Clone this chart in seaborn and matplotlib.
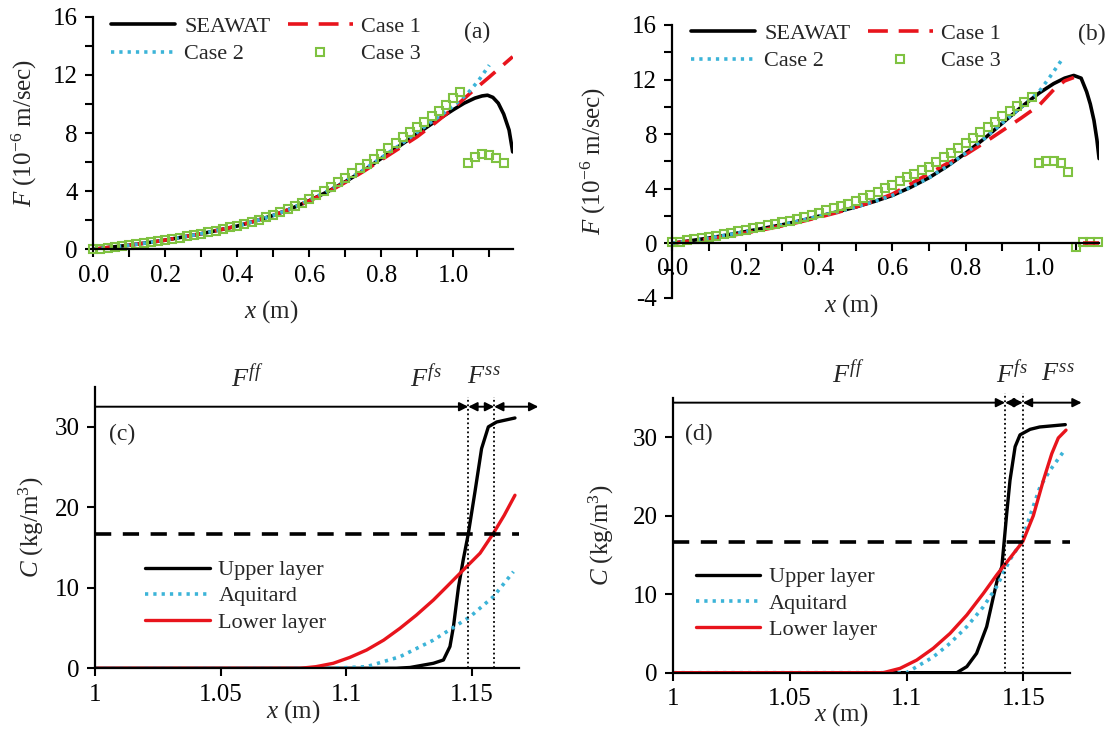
import numpy as np
import matplotlib
matplotlib.use("Agg")
import matplotlib.pyplot as plt
from matplotlib.ticker import MultipleLocator, FuncFormatter
import seaborn as sns

# ---------------- data: panel (a) ----------------
a_seawat_x = [0, 0.05, 0.1, 0.15, 0.2, 0.25, 0.3, 0.35, 0.4, 0.45, 0.5, 0.55, 0.6, 0.65, 0.7, 0.75,
              0.8, 0.85, 0.9, 0.95, 1.0, 1.03, 1.06, 1.08, 1.095, 1.11, 1.125, 1.14, 1.155, 1.165]
a_seawat_y = [0, 0.15, 0.28, 0.45, 0.63, 0.85, 1.07, 1.33, 1.6, 1.95, 2.33, 2.8, 3.35, 3.95, 4.65, 5.4,
              6.25, 7.1, 7.95, 8.8, 9.6, 10.05, 10.4, 10.55, 10.6, 10.45, 10.05, 9.3, 8.2, 6.7]
a_case1_x = [0, 0.05, 0.1, 0.15, 0.2, 0.25, 0.3, 0.35, 0.4, 0.45, 0.5, 0.55, 0.6, 0.65, 0.7, 0.75,
             0.8, 0.85, 0.9, 0.95, 1.0, 1.05, 1.1, 1.165]
a_case1_y = [0, 0.15, 0.28, 0.45, 0.63, 0.85, 1.07, 1.33, 1.6, 1.95, 2.33, 2.8, 3.33, 3.92, 4.6, 5.35,
             6.15, 6.95, 7.75, 8.7, 9.7, 10.8, 11.85, 13.25]
a_case2_x = [0, 0.05, 0.1, 0.15, 0.2, 0.25, 0.3, 0.35, 0.4, 0.45, 0.5, 0.55, 0.6, 0.65, 0.7, 0.75,
             0.8, 0.85, 0.9, 0.95, 1.0, 1.04, 1.07, 1.10]
a_case2_y = [0, 0.15, 0.28, 0.45, 0.63, 0.85, 1.07, 1.33, 1.6, 1.95, 2.33, 2.8, 3.38, 4.0, 4.7, 5.45,
             6.3, 7.15, 8.05, 8.95, 9.85, 10.73, 11.6, 12.67]
a_case3_x = [0.00, 0.02, 0.04, 0.06, 0.08, 0.10, 0.12, 0.14, 0.16, 0.18, 0.20, 0.22, 0.24, 0.26,
             0.28, 0.30, 0.32, 0.34, 0.36, 0.38, 0.40, 0.42, 0.44, 0.46, 0.48, 0.50, 0.52, 0.54,
             0.56, 0.58, 0.60, 0.62, 0.64, 0.66, 0.68, 0.70, 0.72, 0.74, 0.76, 0.78, 0.80, 0.82,
             0.84, 0.86, 0.88, 0.90, 0.92, 0.94, 0.96, 0.98, 1.00, 1.02,
             1.04, 1.06, 1.08, 1.10, 1.12, 1.14]
a_case3_y = [0.00, 0.05, 0.10, 0.16, 0.22, 0.28, 0.34, 0.40, 0.47, 0.55, 0.63, 0.71, 0.80, 0.89,
             0.98, 1.07, 1.17, 1.28, 1.39, 1.51, 1.63, 1.76, 1.90, 2.04, 2.19, 2.35, 2.55, 2.76,
             2.98, 3.21, 3.45, 3.71, 3.98, 4.30, 4.60, 4.92, 5.24, 5.56, 5.88, 6.22, 6.58, 6.96,
             7.34, 7.72, 8.08, 8.42, 8.78, 9.16, 9.54, 9.96, 10.40, 10.84,
             5.91, 6.37, 6.55, 6.49, 6.28, 5.91]

# ---------------- data: panel (b) ----------------
b_seawat_x = [0, 0.05, 0.1, 0.15, 0.2, 0.25, 0.3, 0.35, 0.4, 0.45, 0.5, 0.55, 0.6, 0.65, 0.7, 0.75,
              0.8, 0.85, 0.9, 0.95, 1.0, 1.04, 1.07, 1.095, 1.115, 1.13, 1.14, 1.15, 1.158, 1.164]
b_seawat_y = [0, 0.18, 0.38, 0.6, 0.85, 1.1, 1.35, 1.65, 1.98, 2.3, 2.65, 3.05, 3.5, 4.1, 4.8, 5.65,
              6.6, 7.65, 8.8, 9.95, 11.0, 11.7, 12.1, 12.3, 12.1, 11.1, 10.2, 9.0, 7.6, 6.2]
b_case1_x = [0, 0.05, 0.1, 0.15, 0.2, 0.25, 0.3, 0.35, 0.4, 0.45, 0.5, 0.55, 0.6, 0.65, 0.7, 0.75,
             0.8, 0.85, 0.9, 0.95, 1.0, 1.04, 1.07, 1.095]
b_case1_y = [0, 0.15, 0.32, 0.52, 0.75, 1.0, 1.27, 1.57, 1.9, 2.25, 2.65, 3.08, 3.6, 4.35, 5.1, 5.85,
             6.5, 7.35, 8.25, 9.15, 10.1, 11.25, 11.9, 12.15]
b_case1_tail_x = [1.12, 1.14, 1.165]
b_case1_tail_y = [0, 0, 0]
b_case2_x = [0, 0.05, 0.1, 0.15, 0.2, 0.25, 0.3, 0.35, 0.4, 0.45, 0.5, 0.55, 0.6, 0.65, 0.7, 0.75,
             0.8, 0.85, 0.9, 0.95, 1.0, 1.03, 1.062]
b_case2_y = [0, 0.18, 0.38, 0.6, 0.85, 1.1, 1.35, 1.65, 1.98, 2.3, 2.65, 3.05, 3.5, 4.1, 4.8, 5.65,
             6.6, 7.65, 8.8, 9.95, 11.1, 12.2, 13.44]
b_case3_x = [0.00, 0.02, 0.04, 0.06, 0.08, 0.10, 0.12, 0.14, 0.16, 0.18, 0.20, 0.22, 0.24, 0.26,
             0.28, 0.30, 0.32, 0.34, 0.36, 0.38, 0.40, 0.42, 0.44, 0.46, 0.48, 0.50, 0.52, 0.54,
             0.56, 0.58, 0.60, 0.62, 0.64, 0.66, 0.68, 0.70, 0.72, 0.74, 0.76, 0.78, 0.80, 0.82,
             0.84, 0.86, 0.88, 0.90, 0.92, 0.94, 0.96, 0.98,
             1.00, 1.02, 1.04, 1.06, 1.08,
             1.10, 1.12, 1.14, 1.16]
b_case3_y = [0.05, 0.12, 0.20, 0.28, 0.36, 0.45, 0.55, 0.65, 0.76, 0.88, 1.00, 1.10, 1.20, 1.31,
             1.42, 1.54, 1.66, 1.79, 1.93, 2.08, 2.24, 2.40, 2.56, 2.73, 2.90, 3.06, 3.28, 3.52,
             3.77, 4.03, 4.30, 4.56, 4.82, 5.08, 5.35, 5.62, 5.96, 6.30, 6.64, 6.98, 7.33, 7.72,
             8.12, 8.52, 8.92, 9.32, 9.68, 10.03, 10.38, 10.72,
             5.87, 6.05, 6.05, 5.87, 5.25,
             -0.25, 0.05, 0.05, 0.05]

# ---------------- data: panel (c) ----------------
c_upper_x = [1.0, 1.12, 1.1255, 1.1348, 1.1388, 1.1414, 1.1428, 1.1448, 1.1467, 1.1487, 1.1514,
             1.154, 1.1567, 1.16, 1.1673]
c_upper_y = [0, 0, 0.1, 0.62, 1.03, 2.7, 5.2, 10.1, 13.5, 16.7, 22.0, 27.3, 30.0, 30.6, 31.1]
c_aq_x = [1.0, 1.095, 1.1082, 1.1215, 1.1348, 1.1414, 1.1494, 1.1587, 1.1667]
c_aq_y = [0, 0, 0.2, 1.44, 3.5, 4.8, 6.4, 8.9, 12.0]
c_lower_x = [1.0, 1.0817, 1.088, 1.0949, 1.1015, 1.1082, 1.115, 1.1215, 1.128, 1.1348, 1.14,
             1.1454, 1.1534, 1.1587, 1.163, 1.1673]
c_lower_y = [0, 0, 0.2, 0.62, 1.35, 2.27, 3.5, 4.97, 6.6, 8.48, 10.1, 11.8, 14.3, 16.77, 19.0, 21.5]
c_threshold = 16.7
c_front_x = [1.1487, 1.159]
c_arrow_y = 32.5
c_arrow_end = 1.1766
c_zone_label_x = [1.0606, 1.1318, 1.155]

# ---------------- data: panel (d) ----------------
d_upper_x = [1.0, 1.1215, 1.1258, 1.13, 1.1343, 1.1372, 1.139, 1.1408, 1.1418, 1.1429, 1.1443,
             1.1465, 1.1486, 1.1529, 1.157, 1.168]
d_upper_y = [0, 0, 0.77, 2.47, 5.86, 9.7, 12.0, 13.5, 16.7, 20.3, 24.5, 28.8, 30.3, 31.0, 31.3, 31.6]
d_aq_x = [1.0, 1.1, 1.1114, 1.1186, 1.1258, 1.1329, 1.1386, 1.1443, 1.1493, 1.1529, 1.1572,
          1.1615, 1.1672]
d_aq_y = [0, 0, 2.0, 3.74, 5.86, 8.4, 10.96, 14.4, 16.7, 20.0, 23.7, 25.8, 28.15]
d_lower_x = [1.0, 1.09, 1.0972, 1.1043, 1.1114, 1.1186, 1.1258, 1.1329, 1.1386, 1.1443, 1.1498,
             1.1543, 1.1586, 1.1622, 1.165, 1.1683]
d_lower_y = [0, 0, 0.55, 1.6, 3.1, 5.0, 7.35, 10.1, 12.45, 14.6, 16.7, 20.0, 24.5, 27.9, 29.9, 30.9]
d_threshold = 16.7
d_front_x = [1.1422, 1.1498]
d_arrow_y = 34.4
d_arrow_end = 1.175
d_zone_label_x = [1.075, 1.145, 1.1647]

zone_labels = [r'$F^{ff}$', r'$F^{fs}$', r'$F^{ss}$']
top_labels = ['SEAWAT', 'Case 1', 'Case 2', 'Case 3']
bottom_labels = ['Upper layer', 'Aquitard', 'Lower layer']

# ---------------- style ----------------
sns.set_theme(style='ticks')
plt.rcParams['font.family'] = ['Liberation Serif', 'DejaVu Serif']
plt.rcParams['mathtext.fontset'] = 'custom'
plt.rcParams['mathtext.rm'] = 'Liberation Serif'
plt.rcParams['mathtext.it'] = 'Liberation Serif:italic'
plt.rcParams['axes.linewidth'] = 1.6
plt.rcParams['axes.edgecolor'] = 'black'

BLACK = '#000000'
RED = '#e8141c'
CYAN = '#3cb4d8'
GREEN = '#7fc241'
TICK_FS = 18
LAB_FS = 18
LEG_FS = 16

fig = plt.figure(figsize=(11.09, 7.33), dpi=100)
ax_a = fig.add_axes([0.0841, 0.6599, 0.3782, 0.3173])
ax_b = fig.add_axes([0.6064, 0.5939, 0.3850, 0.3720])
ax_c = fig.add_axes([0.0857, 0.0883, 0.3825, 0.3843])
ax_d = fig.add_axes([0.6071, 0.0823, 0.3577, 0.3748])


def style_axes(ax):
    sns.despine(ax=ax)
    for s in ('left', 'bottom'):
        ax.spines[s].set_linewidth(1.6)
        ax.spines[s].set_color('black')
    ax.tick_params(which='both', direction='out', length=6, width=1.5, colors='black',
                   labelsize=TICK_FS, pad=5)
    ax.grid(False)


def line(ax, x, y, **kw):
    sns.lineplot(x=x, y=y, ax=ax, sort=False, errorbar=None, estimator=None, **kw)
    return ax.lines[-1]


def top_panel(ax, sx, sy, c1x, c1y, c2x, c2y, c3x, c3y, tag, tagpos, leg_anchor, ylim):
    h_sea = line(ax, sx, sy, color=BLACK, linewidth=2.6)
    h_c1 = line(ax, c1x, c1y, color=RED, linewidth=2.6, linestyle=(0, (5.5, 3)))
    h_c2 = line(ax, c2x, c2y, color=CYAN, linewidth=2.6, linestyle=(0, (0.9, 1.4)))
    h_c3 = line(ax, c3x, c3y, color=GREEN, linestyle='none', marker='s', markersize=6.0,
                markerfacecolor='none', markeredgecolor=GREEN, markeredgewidth=1.5)
    h_c3.set_clip_on(False)
    ax.set_xlim(0, 1.165)
    ax.set_ylim(*ylim)
    ax.xaxis.set_major_locator(MultipleLocator(0.2))
    ax.xaxis.set_minor_locator(MultipleLocator(0.1))
    ax.yaxis.set_major_locator(MultipleLocator(4))
    ax.yaxis.set_minor_locator(MultipleLocator(2))
    ax.xaxis.set_major_formatter(FuncFormatter(lambda v, p: f'{v:.1f}'))
    ax.yaxis.set_major_formatter(FuncFormatter(lambda v, p: f'{v:g}'))
    style_axes(ax)
    ax.set_xlabel(r'$x$ (m)', fontsize=LAB_FS)
    ax.set_ylabel(r'$F$ (10$^{-6}$ m/sec)', fontsize=LAB_FS)
    ax.legend(handles=[h_sea, h_c2, h_c1, h_c3],
              labels=[top_labels[0], top_labels[2], top_labels[1], top_labels[3]],
              ncol=2, loc='upper left', bbox_to_anchor=leg_anchor, frameon=False,
              fontsize=LEG_FS, handlelength=2.9, handletextpad=0.4, columnspacing=0.8,
              labelspacing=0.3, borderpad=0, borderaxespad=0, numpoints=1)
    ax.text(tagpos[0], tagpos[1], tag, ha='center', va='center', fontsize=17)


top_panel(ax_a, a_seawat_x, a_seawat_y, a_case1_x, a_case1_y, a_case2_x, a_case2_y,
          a_case3_x, a_case3_y, '(a)', (1.066, 14.94), (0.042, 1.0), (0, 16))
ax_a.xaxis.set_label_coords(0.425, -0.21)
ax_a.yaxis.set_label_coords(-0.13, 0.5)

top_panel(ax_b, b_seawat_x, b_seawat_y, b_case1_x, b_case1_y, b_case2_x, b_case2_y,
          b_case3_x, b_case3_y, '(b)', (1.145, 15.27), (0.043, 1.005), (-4, 16))
line(ax_b, b_case1_tail_x, b_case1_tail_y, color=RED, linewidth=2.6, linestyle=(0, (5.5, 3)))
ax_b.spines['bottom'].set_position(('data', 0))
ax_b.xaxis.set_label_coords(0.42, 0.02)
ax_b.yaxis.set_label_coords(-0.15, 0.5)


def bottom_panel(ax, ux, uy, ax_, ay, lx, ly, thr, fronts, arr_y, arr_end, zone_x, tag, tagpos,
                 leg_anchor, xmax):
    h_u = line(ax, ux, uy, color=BLACK, linewidth=2.4)
    h_a = line(ax, ax_, ay, color=CYAN, linewidth=2.6, linestyle=(0, (0.9, 1.4)))
    h_l = line(ax, lx, ly, color=RED, linewidth=2.4)
    ax.set_xlim(1.0, xmax)
    ax.set_ylim(0, 35)
    ax.axhline(thr, color=BLACK, linewidth=2.6, linestyle=(0, (4.5, 3.2)))
    for fx in fronts:
        ax.plot([fx, fx], [0, arr_y + 1.2], color=BLACK, linewidth=1.3,
                linestyle=(0, (1, 1.5)), clip_on=False)
    segs = [(1.0, fronts[0], '-|>'), (fronts[0], fronts[1], '<|-|>'), (fronts[1], arr_end, '<|-|>')]
    for x0, x1, st in segs:
        ax.annotate('', xy=(x1, arr_y), xytext=(x0, arr_y), xycoords='data',
                    arrowprops=dict(arrowstyle=st, color=BLACK, lw=1.4, shrinkA=0, shrinkB=0,
                                    mutation_scale=13), annotation_clip=False)
    ytxt = arr_y + 3.6
    for zx, zl in zip(zone_x, zone_labels):
        ax.text(zx, ytxt, zl, ha='center', va='center', fontsize=19)
    ax.xaxis.set_major_locator(MultipleLocator(0.05))
    ax.yaxis.set_major_locator(MultipleLocator(10))
    ax.xaxis.set_major_formatter(FuncFormatter(lambda v, p: f'{v:g}'))
    style_axes(ax)
    ax.set_xlabel(r'$x$ (m)', fontsize=LAB_FS)
    ax.set_ylabel(r'$C$ (kg/m$^3$)', fontsize=LAB_FS)
    ax.legend(handles=[h_u, h_a, h_l], labels=bottom_labels, loc='upper left',
              bbox_to_anchor=leg_anchor, frameon=False, fontsize=LEG_FS, handlelength=2.9,
              handletextpad=0.4, labelspacing=0.25, borderpad=0, borderaxespad=0)
    ax.text(tagpos[0], tagpos[1], tag, ha='center', va='center', fontsize=17)


bottom_panel(ax_c, c_upper_x, c_upper_y, c_aq_x, c_aq_y, c_lower_x, c_lower_y, c_threshold,
             c_front_x, c_arrow_y, c_arrow_end, c_zone_label_x, '(c)', (1.0108, 29.0),
             (0.118, 0.385), 1.169)
ax_c.xaxis.set_label_coords(0.467, -0.105)
ax_c.yaxis.set_label_coords(-0.115, 0.5)

bottom_panel(ax_d, d_upper_x, d_upper_y, d_aq_x, d_aq_y, d_lower_x, d_lower_y, d_threshold,
             d_front_x, d_arrow_y, d_arrow_end, d_zone_label_x, '(d)', (1.011, 30.3),
             (0.057, 0.385), 1.170)
ax_d.xaxis.set_label_coords(0.423, -0.105)
ax_d.yaxis.set_label_coords(-0.145, 0.5)

fig.savefig('out.png', dpi=100)
